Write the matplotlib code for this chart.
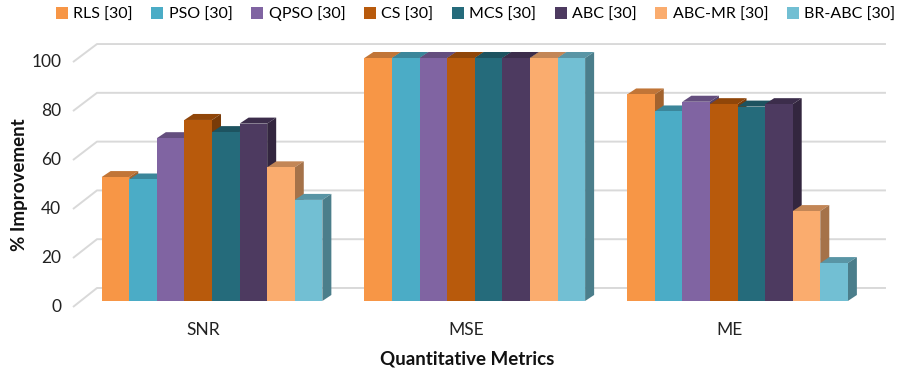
import matplotlib.pyplot as plt
from matplotlib.patches import Patch, Polygon
import numpy as np

plt.rcParams['font.family'] = ['Lato', 'DejaVu Sans']

# data
metrics = ['SNR', 'MSE', 'ME']
methods = ['RLS [30]', 'PSO [30]', 'QPSO [30]', 'CS [30]', 'MCS [30]', 'ABC [30]', 'ABC-MR [30]', 'BR-ABC [30]']
snr = [51, 50, 67, 74.5, 69.5, 73, 55, 41.6]
mse = [100, 100, 100, 100, 100, 100, 100, 100]
me = [85, 78, 82, 81, 80, 81, 37, 15.6]
yticks = [0, 20, 40, 60, 80, 100]

colors = ['#F79646', '#4BACC6', '#8064A2', '#B85A0C', '#256B7B', '#4D3A60', '#FAAC6E', '#72BFD3']

values = np.array([snr, mse, me]).T  # rows = methods


def shade(c, f):
    r, g, b = [int(c[k:k + 2], 16) / 255 for k in (1, 3, 5)]
    return (r * f, g * f, b * f)


fig = plt.figure(figsize=(8.99, 3.70), dpi=100)
ax = fig.add_axes([0, 0, 1, 1])
ax.axis('off')

# one x unit = one category, y in percent
ax.set_xlim(-0.8068, 2.6146)
ax.set_ylim(-28.4, 123.87)

bw = 0.105              # bar width
ddx, ddy = 0.0343, 2.47  # depth offset of bar tops/sides
grid_col = '#D9D9D9'

# back wall and left wall gridlines
wall_fx, wall_bx, wall_end = -0.529, -0.4377, 2.565
for t in yticks:
    yb = t * 1.004 + 5.35
    yf = t * 1.008 - 2.47
    ax.plot([wall_fx, wall_bx, wall_end], [yf, yb, yb], color=grid_col, lw=1.4,
            zorder=1, solid_capstyle='butt')
    ax.text(wall_fx - 0.045, yf, str(t), ha='right', va='center', fontsize=12.5, color='#222222')

# 3d-looking columns
n = len(methods)
for g in range(len(metrics)):
    x0 = g - n * bw / 2
    for i in range(n):
        v = values[i, g]
        xl = x0 + i * bw
        z = 2 + g + i * 0.05
        ax.bar(xl, v, width=bw, align='edge', color=colors[i], linewidth=0, zorder=z + 0.02)
        top = [(xl, v), (xl + bw, v), (xl + bw + ddx, v + ddy), (xl + ddx, v + ddy)]
        side = [(xl + bw, 0), (xl + bw + ddx, ddy), (xl + bw + ddx, v + ddy), (xl + bw, v)]
        ax.add_patch(Polygon(top, closed=True, facecolor=shade(colors[i], 0.78), lw=0, zorder=z))
        ax.add_patch(Polygon(side, closed=True, facecolor=shade(colors[i], 0.66), lw=0, zorder=z))

# category labels
for g, m in enumerate(metrics):
    ax.text(g - 0.032, -11.9, m, ha='center', va='center', fontsize=12.5, color='#222222')

ax.text(0.97, -23.9, 'Quantitative Metrics', ha='center', va='center',
        fontsize=13.5, fontweight='bold', color='#111111')
fig.text(20 / 899, 1 - 185 / 370, '% Improvement', rotation=90, ha='center', va='center',
         fontsize=13.5, fontweight='bold', color='#111111')

handles = [Patch(facecolor=c, edgecolor='none') for c in colors]
fig.legend(handles, methods, loc='center', bbox_to_anchor=(0.529, 1 - 14 / 370), ncol=8,
           frameon=False, handlelength=0.75, handleheight=0.75, handletextpad=0.35,
           columnspacing=1.15, fontsize=11.5, borderpad=0)

fig.savefig('out.png', dpi=100)
